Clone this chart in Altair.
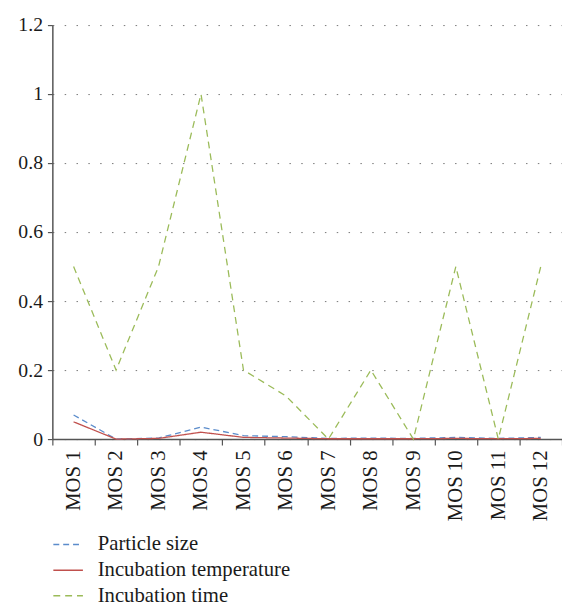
import altair as alt
import pandas as pd

categories = [f"MOS {i}" for i in range(1, 13)]
particle_size = [0.07, 0.0, 0.003, 0.035, 0.01, 0.007, 0.002, 0.003, 0.002, 0.005, 0.002, 0.005]
incubation_temperature = [0.05, 0.0, 0.002, 0.02, 0.005, 0.003, 0.001, 0.001, 0.001, 0.002, 0.001, 0.002]
incubation_time = [0.5, 0.2, 0.5, 1.0, 0.2, 0.125, 0.0, 0.2, 0.0, 0.5, 0.0, 0.5]
series_names = ["Particle size", "Incubation temperature", "Incubation time"]
y_ticks = [0, 0.2, 0.4, 0.6, 0.8, 1.0, 1.2]

rows = []
for name, vals in zip(series_names, [particle_size, incubation_temperature, incubation_time]):
    for c, v in zip(categories, vals):
        rows.append({"Category": c, "Value": v, "Series": name})
df = pd.DataFrame(rows)

FONT = "Liberation Serif"

legend = alt.Legend(title=None, orient="none", legendX=0, legendY=511,
                    symbolType="stroke", symbolSize=900, symbolStrokeWidth=1.5,
                    labelFont=FONT, labelFontSize=21, labelColor="#1a1a1a",
                    labelOffset=14, rowPadding=-6, labelLimit=0)

chart = alt.Chart(df).mark_line(strokeWidth=1.3).encode(
    x=alt.X("Category:N", sort=categories, title=None,
            scale=alt.Scale(paddingInner=0, paddingOuter=0),
            axis=alt.Axis(labelAngle=-90, tickBand="extent", tickSize=6,
                          labelPadding=5, labelFont=FONT, labelFontSize=21,
                          labelColor="#1a1a1a", domainColor="#555", tickColor="#555",
                          domainWidth=1.5, tickWidth=1.2, grid=False)),
    y=alt.Y("Value:Q", title=None,
            scale=alt.Scale(domain=[0, 1.2], nice=False),
            axis=alt.Axis(values=y_ticks, format="~g", tickSize=5, labelPadding=5,
                          labelFont=FONT, labelFontSize=20, labelColor="#1a1a1a",
                          domainColor="#555", tickColor="#555", domainWidth=1.5,
                          tickWidth=1.2, grid=True, gridDash=[1.5, 10.5],
                          gridColor="#777", gridWidth=1)),
    color=alt.Color("Series:N", sort=series_names,
                    scale=alt.Scale(domain=series_names,
                                    range=["#5b8ccb", "#c0504d", "#9bbb59"]),
                    legend=legend),
    strokeDash=alt.StrokeDash("Series:N", sort=series_names,
                              scale=alt.Scale(domain=series_names,
                                              range=[[6, 4], [1, 0], [7, 5]]),
                              legend=legend),
).properties(
    width=517, height=420,
    padding={"left": 45, "top": 13, "right": 0, "bottom": 166},
    autosize=alt.AutoSizeParams(type="none"),
).configure_view(stroke=None)

chart.save("out.html", embed_options={"renderer": "svg", "actions": False})
